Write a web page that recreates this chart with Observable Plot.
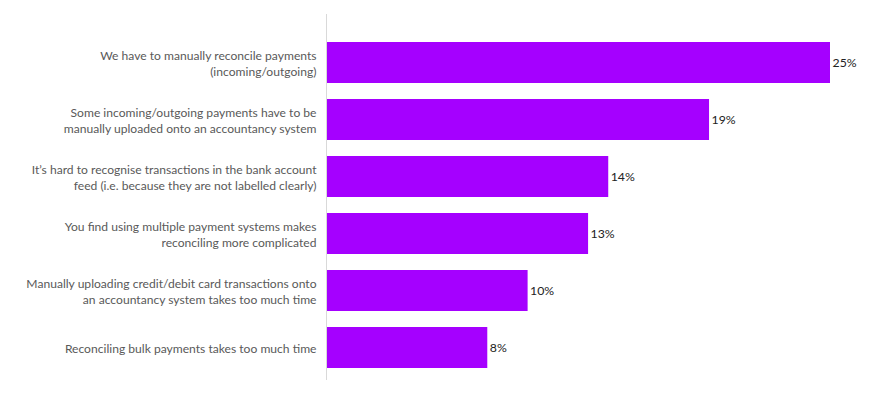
<!DOCTYPE html>
<html>
<head>
<meta charset="utf-8">
<script src="https://cdn.jsdelivr.net/npm/d3@7"></script>
<script src="https://cdn.jsdelivr.net/npm/@observablehq/plot@0.6"></script>
<style>
  html, body { margin: 0; padding: 0; background: #fff; }
  #chart { width: 878px; height: 405px; }
</style>
</head>
<body>
<div id="chart"></div>
<script>
const categories = [
  "We have to manually reconcile payments\n(incoming/outgoing)",
  "Some incoming/outgoing payments have to be\nmanually uploaded onto an accountancy system",
  "It\u2019s hard to recognise transactions in the bank account\nfeed (i.e. because they are not labelled clearly)",
  "You find using multiple payment systems makes\nreconciling more complicated",
  "Manually uploading credit/debit card transactions onto\nan accountancy system takes too much time",
  "Reconciling bulk payments takes too much time"
];
const values = [25, 19, 14, 13, 10, 8];

const data = categories.map((c, i) => ({category: c, value: values[i]}));

const chart = Plot.plot({
  width: 878,
  height: 405,
  marginLeft: 326,
  marginRight: 48,
  marginTop: 14,
  marginBottom: 25,
  style: {fontFamily: "Lato, sans-serif", fontSize: "12px", background: "#fff"},
  x: {domain: [0, 25], axis: null},
  y: {domain: categories, range: [33.2, 377], paddingInner: 0.28, paddingOuter: 0.14, label: null},
  marks: [
    Plot.barX(data, {x: "value", y: "category", fill: "#a500ff"}),
    Plot.ruleX([0], {stroke: "#d9d9d9", strokeWidth: 1}),
    Plot.axisY({tickSize: 0, tickPadding: 10, label: null, fill: "#595959", lineHeight: 1.33, fontSize: 12.1}),
    Plot.text(data, {x: "value", y: "category", text: d => d.value + "%", textAnchor: "start", dx: 2, fill: "#222", fontSize: 12.3})
  ]
});
document.getElementById("chart").appendChild(chart);
</script>
</body>
</html>
